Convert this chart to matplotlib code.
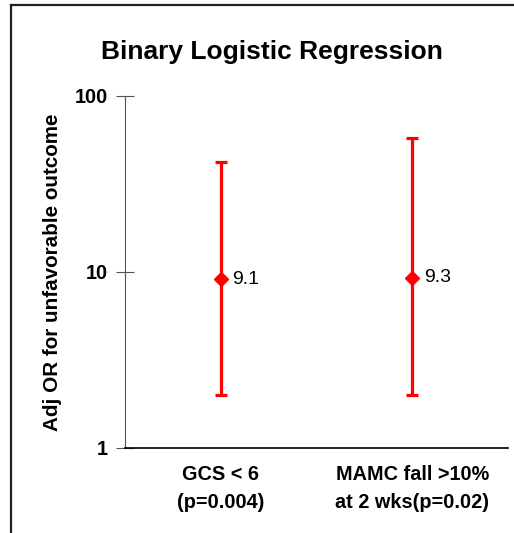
import matplotlib
matplotlib.use("Agg")
import matplotlib.pyplot as plt
from matplotlib.lines import Line2D
from matplotlib.ticker import FixedLocator, FixedFormatter, NullLocator

# Predictors, adjusted odds ratios and 95% CI bounds
categories = ["GCS < 6\n(p=0.004)", "MAMC fall >10%\nat 2 wks(p=0.02)"]
odds_ratio = [9.1, 9.3]
ci_lower = [2.0, 2.0]
ci_upper = [42.0, 57.5]
y_ticks = [1, 10, 100]
y_tick_labels = ["1", "10", "100"]

plt.rcParams["font.family"] = ["Liberation Sans", "DejaVu Sans"]

fig = plt.figure(figsize=(5.14, 5.33), dpi=100)
ax = fig.add_axes([0.2432, 0.1595, 0.745, 0.6604])

x = [i + 0.5 for i in range(len(categories))]
yerr = [[o - l for o, l in zip(odds_ratio, ci_lower)],
        [u - o for o, u in zip(odds_ratio, ci_upper)]]
ax.errorbar(x, odds_ratio, yerr=yerr, fmt="D", color="#ff0000", ecolor="#ff0000",
            markersize=7, elinewidth=2.3, capsize=4.5, capthick=2.3, zorder=3)

for xi, v in zip(x, odds_ratio):
    ax.annotate(f"{v}", (xi, v), xytext=(8.5, 0), textcoords="offset points",
                ha="left", va="center", fontsize=14, color="black")

ax.set_yscale("log")
ax.set_ylim(1, 100)
ax.set_xlim(0, len(categories))
ax.yaxis.set_major_locator(FixedLocator(y_ticks))
ax.yaxis.set_major_formatter(FixedFormatter(y_tick_labels))
ax.yaxis.set_minor_locator(NullLocator())
ax.set_xticks(x)
ax.set_xticklabels(categories, fontsize=14.3, fontweight="bold", linespacing=1.6)
ax.tick_params(axis="x", length=0, pad=12)
ax.tick_params(axis="y", direction="inout", length=13, width=0.8, color="#555555",
               labelsize=14.3, pad=6)
for lbl in ax.get_yticklabels():
    lbl.set_fontweight("bold")

for side in ("top", "right"):
    ax.spines[side].set_visible(False)
ax.spines["left"].set_color("#555555")
ax.spines["left"].set_linewidth(0.8)
ax.spines["bottom"].set_color("black")
ax.spines["bottom"].set_linewidth(1.2)

ax.set_ylabel("Adj OR for unfavorable outcome", fontsize=14.9, fontweight="bold", labelpad=9)
fig.text(0.529, 0.902, "Binary Logistic Regression", ha="center", va="center",
         fontsize=19, fontweight="bold")

# Page frame lines
fig.add_artist(Line2D([11 / 514, 1.0], [1 - 5 / 533, 1 - 5 / 533],
                      transform=fig.transFigure, color="#222222", linewidth=1.6))
fig.add_artist(Line2D([11 / 514, 11 / 514], [0.0, 1 - 5 / 533],
                      transform=fig.transFigure, color="#222222", linewidth=1.6))

fig.savefig("out.png", dpi=100)
